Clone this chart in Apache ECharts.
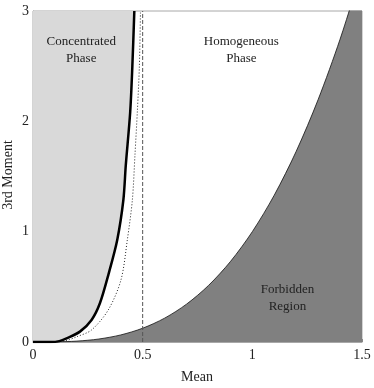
<!DOCTYPE html>
<html>
<head>
<meta charset="utf-8">
<script src="https://cdn.jsdelivr.net/npm/echarts@6/dist/echarts.min.js"></script>
<style>html,body{margin:0;padding:0;background:#fff;}#c{width:374px;height:388px;}</style>
</head>
<body>
<div id="c"></div>
<script>
// Thick solid boundary (concentrated phase)
var thickX = [0, 0.08, 0.12, 0.153, 0.214, 0.267, 0.305, 0.345, 0.384, 0.412, 0.423, 0.443, 0.453, 0.462];
var thickY = [0, 0, 0.008, 0.033, 0.094, 0.2, 0.351, 0.62, 0.925, 1.287, 1.6, 2.08, 2.5, 3.0];
// Dotted curve
var dotX = [0, 0.1, 0.15, 0.2, 0.267, 0.343, 0.401, 0.43, 0.453, 0.465, 0.476, 0.485, 0.49];
var dotY = [0, 0.002, 0.012, 0.048, 0.109, 0.29, 0.562, 0.925, 1.287, 1.7, 2.1, 2.5, 3.0];
// Forbidden region boundary
var forbX = [0, 0.1, 0.2, 0.3, 0.4, 0.5, 0.6, 0.7, 0.8, 0.9, 1.0, 1.1, 1.2, 1.3, 1.4, 1.5];
var forbY = [0, 0.001, 0.008, 0.027, 0.064, 0.125, 0.216, 0.343, 0.512, 0.729, 1.0, 1.331, 1.728, 2.197, 2.744, 3.375];
// Dashed vertical line
var dashX = [0.5, 0.5];
var dashY = [0, 3];
var xTicks = [0, 0.5, 1, 1.5];
var yTicks = [0, 1, 2, 3];
var labels = [
  {text: 'Concentrated\nPhase', x: 0.22, y: 2.65},
  {text: 'Homogeneous\nPhase', x: 0.95, y: 2.65},
  {text: 'Forbidden\nRegion', x: 1.16, y: 0.4}
];

function pairs(xs, ys) { return xs.map(function (x, i) { return [x, ys[i]]; }); }

var font = '"Liberation Serif", "DejaVu Serif", serif';
var chart = echarts.init(document.getElementById('c'), null, {renderer: 'canvas'});
var option = {
  animation: false,
  backgroundColor: '#fff',
  grid: {left: 33, right: 12, top: 11, bottom: 46, show: true, borderColor: '#a8a8a8', borderWidth: 1, backgroundColor: 'transparent'},
  xAxis: {
    type: 'value', min: 0, max: 1.5, interval: 0.5,
    axisLine: {show: true, onZero: false, lineStyle: {color: '#a8a8a8', width: 1}},
    axisTick: {show: true, inside: true, length: 3, lineStyle: {color: '#888'}},
    splitLine: {show: false},
    axisLabel: {margin: 6, fontFamily: font, fontSize: 14, color: '#222',
      formatter: function (v) { return xTicks.indexOf(v) >= 0 ? String(v) : ''; }}
  },
  yAxis: {
    type: 'value', min: 0, max: 3, interval: 1,
    axisLine: {show: true, onZero: false, lineStyle: {color: '#a8a8a8', width: 1}},
    axisTick: {show: true, inside: true, length: 3, lineStyle: {color: '#888'}},
    splitLine: {show: false},
    axisLabel: {margin: 4, fontFamily: font, fontSize: 14, color: '#222',
      formatter: function (v) { return yTicks.indexOf(v) >= 0 ? String(v) : ''; }}
  },
  series: [
    {type: 'line', data: pairs(thickX, thickY), showSymbol: false, symbol: 'none', smooth: 0.3, clip: true,
      lineStyle: {width: 0}, areaStyle: {color: '#d9d9d9', opacity: 1, origin: 'end'}, z: 1},
    {type: 'line', data: pairs(forbX, forbY), showSymbol: false, symbol: 'none', smooth: 0.3, clip: true,
      lineStyle: {color: '#111', width: 0.8}, areaStyle: {color: '#808080', opacity: 1, origin: 'start'}, z: 2},
    {type: 'line', data: pairs(dashX, dashY), showSymbol: false, symbol: 'none', clip: true,
      lineStyle: {color: '#555', width: 1, type: [4, 2]}, z: 3},
    {type: 'line', data: pairs(dotX, dotY), showSymbol: false, symbol: 'none', smooth: 0.3, clip: true,
      lineStyle: {color: '#222', width: 1, type: [1, 2]}, z: 4},
    {type: 'line', data: pairs(thickX, thickY), showSymbol: false, symbol: 'none', smooth: 0.3, clip: true,
      lineStyle: {color: '#000', width: 2.5}, z: 5}
  ]
};
chart.setOption(option);

var g = [];
labels.forEach(function (l) {
  var p = chart.convertToPixel({gridIndex: 0}, [l.x, l.y]);
  g.push({type: 'text', x: p[0], y: p[1], z: 100,
    style: {text: l.text, font: '13px ' + font, fill: '#222', align: 'center', verticalAlign: 'middle', lineHeight: 17}});
});
g.push({type: 'text', x: 197, y: 377, z: 100,
  style: {text: 'Mean', font: '14px ' + font, fill: '#222', align: 'center', verticalAlign: 'middle'}});
g.push({type: 'text', x: 8, y: 175, rotation: Math.PI / 2, z: 100,
  style: {text: '3rd Moment', font: '14px ' + font, fill: '#222', align: 'center', verticalAlign: 'middle'}});
chart.setOption({graphic: g});
</script>
</body>
</html>
